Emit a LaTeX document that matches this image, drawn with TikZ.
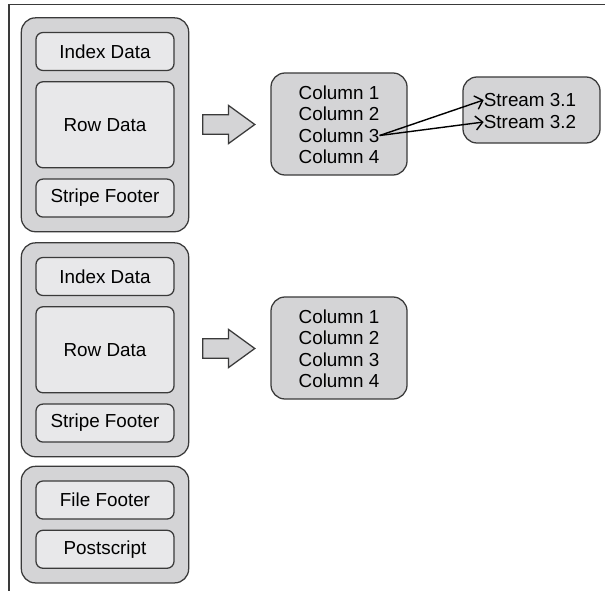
\documentclass[tikz,border=0pt]{standalone}
\usepackage{fontspec}
\setmainfont{Liberation Sans}
\usetikzlibrary{positioning,fit,backgrounds,shapes.arrows,arrows.meta}
\definecolor{edgegray}{HTML}{3A3A3A}
\definecolor{boxgray}{HTML}{D4D4D6}
\definecolor{partgray}{HTML}{E8E8EA}

\begin{document}
\begin{tikzpicture}
[x=0.025cm, y=-0.025cm, node distance=0.25cm, font=\fontsize{13.4}{15}\selectfont]
\tikzstyle{part}=[draw=edgegray, fill=partgray, line width=0.9pt, rounded corners=5pt, minimum width=3.45cm, minimum height=0.95cm, inner sep=0pt]
\tikzstyle{stripe}=[draw=edgegray, fill=boxgray, line width=0.9pt, rounded corners=10pt, inner sep=0.35cm]
\tikzstyle{colbox}=[draw=edgegray, fill=boxgray, line width=0.9pt, rounded corners=10pt, minimum width=3.4cm, minimum height=2.55cm]
\tikzstyle{item}=[inner sep=0pt]
\tikzstyle{bigarrow}=[single arrow, draw=edgegray, fill=boxgray, line width=0.9pt, minimum height=1.3cm, inner xsep=0pt, inner ysep=0.23cm, single arrow head extend=0.23cm, single arrow tip angle=72]
\useasboundingbox (0,0) rectangle (605,591);

% frame
\coordinate (TL) at (9,4.5);
\coordinate (TR) at (605,4.5);
\coordinate (BL) at (9,591);
\draw [edgegray, line width=1pt] (TR)--(TL)--(BL);

% stripe 1
\node[part]	(I1)	at (105,51.5)	{Index Data};
\node[part, minimum height=2.15cm]	(R1)	[below=of I1]	{Row Data};
\node[part]	(F1)	[below=of R1]	{Stripe Footer};

% stripe 2
\node[part]	(I2)	at (105,276.5)	{Index Data};
\node[part, minimum height=2.15cm]	(R2)	[below=of I2]	{Row Data};
\node[part]	(F2)	[below=of R2]	{Stripe Footer};

% file tail
\node[part]	(FF)	at (105,500)	{File Footer};
\node[part]	(PS)	[below=of FF]	{Postscript};

\begin{scope}[on background layer]
\node[stripe, fit=(I1)(F1)]	(S1)	{};
\node[stripe, fit=(I2)(F2)]	(S2)	{};
\node[stripe, fit=(FF)(PS)]	(S3)	{};
\end{scope}

\node[bigarrow]	(B1)	at (222,124.5)	{};
\node[bigarrow]	(B2)	at (222,348.5)	{};

% columns of stripe 1
\node[colbox]	(C1)	at (339,124)	{};
\node[item]	(A1)	at (339,92.5)	{Column 1};
\node[item]	(A2)	at (339,114)	{Column 2};
\node[item]	(A3)	at (339,135.5)	{Column 3};
\node[item]	(A4)	at (339,157)	{Column 4};

% columns of stripe 2
\node[colbox]	(C2)	at (339,348)	{};
\node[item]	(D1)	at (339,316.5)	{Column 1};
\node[item]	(D2)	at (339,338)	{Column 2};
\node[item]	(D3)	at (339,359.5)	{Column 3};
\node[item]	(D4)	at (339,381)	{Column 4};

% streams
\node[colbox, minimum width=3.425cm, minimum height=1.65cm]	(ST)	at (531.5,110)	{};
\node[item]	(S31)	at (530,100)	{Stream 3.1};
\node[item]	(S32)	at (530,122)	{Stream 3.2};

\draw [line width=1pt, -{Straight Barb[length=5pt, width=10pt]}] (A3.east)--(S31.west);
\draw [line width=1pt, -{Straight Barb[length=5pt, width=10pt]}] (A3.east)--(S32.west);
\end{tikzpicture}
\end{document}
